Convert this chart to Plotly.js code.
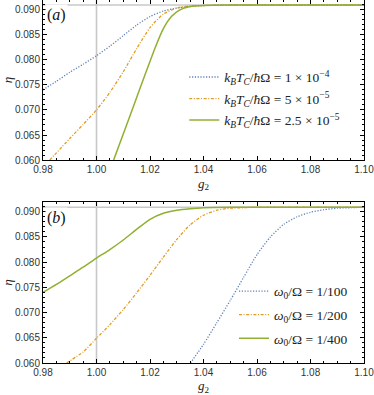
<!DOCTYPE html>
<html>
<head>
<meta charset="utf-8">
<script src="https://cdn.plot.ly/plotly-3.0.1.min.js"></script>
<style>html,body{margin:0;padding:0;background:#fff;}#chart{width:374px;height:395px;}</style>
</head>
<body>
<div id="chart"></div>
<script>
// ---- Panel (a): k_B T_C / ħΩ series ----
const gA1 = [0.98, 0.985, 0.99, 0.995, 1.00, 1.005, 1.01, 1.015, 1.02, 1.025, 1.03, 1.035, 1.04, 1.05, 1.06, 1.08, 1.10];
const etaA1 = [0.0740, 0.0757, 0.0775, 0.0791, 0.0808, 0.0827, 0.0848, 0.0869, 0.0886, 0.0897, 0.0903, 0.0906, 0.0908, 0.0909, 0.0909, 0.0909, 0.0909];
const gA2 = [0.9825, 0.99, 0.995, 1.00, 1.005, 1.01, 1.015, 1.02, 1.025, 1.03, 1.035, 1.04, 1.05, 1.06, 1.08, 1.10];
const etaA2 = [0.0600, 0.0643, 0.0671, 0.0700, 0.0735, 0.0776, 0.0822, 0.0864, 0.0891, 0.0903, 0.0907, 0.0908, 0.0909, 0.0909, 0.0909, 0.0909];
const gA3 = [1.0064, 1.01, 1.014, 1.018, 1.022, 1.025, 1.028, 1.031, 1.035, 1.04, 1.05, 1.06, 1.08, 1.10];
const etaA3 = [0.0600, 0.0652, 0.0710, 0.0768, 0.0825, 0.0862, 0.0886, 0.0899, 0.0906, 0.0908, 0.0909, 0.0909, 0.0909, 0.0909];
const namesA = [
  '<i>k</i><sub><i>B</i></sub><i>T</i><sub><i>C</i></sub>/<i>ħ</i>Ω = 1 × 10<sup>−4</sup>',
  '<i>k</i><sub><i>B</i></sub><i>T</i><sub><i>C</i></sub>/<i>ħ</i>Ω = 5 × 10<sup>−5</sup>',
  '<i>k</i><sub><i>B</i></sub><i>T</i><sub><i>C</i></sub>/<i>ħ</i>Ω = 2.5 × 10<sup>−5</sup>'
];

// ---- Panel (b): ω0/Ω series ----
const gB1 = [1.0351, 1.04, 1.045, 1.05, 1.055, 1.06, 1.065, 1.07, 1.075, 1.08, 1.085, 1.09, 1.095, 1.10];
const etaB1 = [0.0600, 0.0637, 0.0680, 0.0724, 0.0770, 0.0815, 0.0850, 0.0875, 0.0890, 0.0899, 0.0904, 0.0907, 0.0908, 0.0909];
const gB2 = [0.9888, 0.995, 1.00, 1.005, 1.01, 1.015, 1.02, 1.025, 1.03, 1.035, 1.04, 1.045, 1.05, 1.055, 1.06, 1.08, 1.10];
const etaB2 = [0.0600, 0.0622, 0.0649, 0.0676, 0.0706, 0.0739, 0.0774, 0.0810, 0.0845, 0.0874, 0.0893, 0.0903, 0.0907, 0.0908, 0.0909, 0.0909, 0.0909];
const gB3 = [0.98, 0.985, 0.99, 0.995, 1.00, 1.005, 1.01, 1.015, 1.02, 1.025, 1.03, 1.035, 1.04, 1.05, 1.06, 1.08, 1.10];
const etaB3 = [0.0740, 0.0756, 0.0773, 0.0790, 0.0808, 0.0825, 0.0844, 0.0865, 0.0885, 0.0897, 0.0903, 0.0906, 0.0908, 0.0909, 0.0909, 0.0909, 0.0909];
const namesB = [
  '<i>ω</i><sub>0</sub>/Ω = 1/100',
  '<i>ω</i><sub>0</sub>/Ω = 1/200',
  '<i>ω</i><sub>0</sub>/Ω = 1/400'
];

// reference lines
const refG = 1.00;
const satEta = 0.0909;

const xTickVals = [0.98, 1.00, 1.02, 1.04, 1.06, 1.08, 1.10];
const yTickVals = [0.060, 0.065, 0.070, 0.075, 0.080, 0.085, 0.090];

const colors = ['#5e81b5', '#e19c24', '#8fb032'];
const dashes = ['1.2px,1.6px', '3px,1.6px,1px,1.6px', 'solid'];
const widths = [1.3, 1.3, 1.5];

function mk(x, y, name, i, xa, ya, leg) {
  return {x: x, y: y, name: name, type: 'scatter', mode: 'lines',
    xaxis: xa, yaxis: ya, legend: leg, legendgroup: leg + i,
    line: {color: colors[i], dash: dashes[i], width: widths[i], shape: 'spline', smoothing: 0.6}};
}

const data = [
  mk(gA1, etaA1, namesA[0], 0, 'x', 'y', 'legend'),
  mk(gA2, etaA2, namesA[1], 1, 'x', 'y', 'legend'),
  mk(gA3, etaA3, namesA[2], 2, 'x', 'y', 'legend'),
  mk(gB1, etaB1, namesB[0], 0, 'x2', 'y2', 'legend2'),
  mk(gB2, etaB2, namesB[1], 1, 'x2', 'y2', 'legend2'),
  mk(gB3, etaB3, namesB[2], 2, 'x2', 'y2', 'legend2')
];

const tickFont = {family: 'Liberation Sans, Arial, sans-serif', size: 10, color: '#333'};
const titleFont = {family: 'Liberation Serif, DejaVu Serif, serif', size: 13, color: '#222'};
const legFont = {family: 'Liberation Serif, DejaVu Serif, serif', size: 13.5, color: '#222'};

function xax(anchor) {
  return {anchor: anchor, range: [0.98, 1.1], tickvals: xTickVals, tickformat: '.2f',
    ticks: 'inside', ticklen: 4, tickcolor: '#000', showline: true, linecolor: '#000', linewidth: 1,
    mirror: 'allticks', showgrid: false, zeroline: false, tickfont: tickFont, ticklabeloverflow: 'allow',
    minor: {dtick: 0.005, tick0: 0.98, ticks: 'inside', ticklen: 2, tickcolor: '#000', showgrid: false},
    title: {text: '<i>g</i><sub>2</sub>', font: titleFont, standoff: 4}};
}
function yax(anchor, dom) {
  return {anchor: anchor, domain: dom, range: [0.060, 0.0919], tickvals: yTickVals, tickformat: '.3f',
    ticks: 'inside', ticklen: 4, tickcolor: '#000', showline: true, linecolor: '#000', linewidth: 1,
    mirror: 'allticks', showgrid: false, zeroline: false, tickfont: tickFont, ticklabeloverflow: 'allow',
    minor: {dtick: 0.001, tick0: 0.060, ticks: 'inside', ticklen: 2, tickcolor: '#000', showgrid: false},
    title: {text: '<i>η</i>', font: titleFont, standoff: 6}};
}

const grey = {color: '#c8c8c8', width: 1.6};
const layout = {
  width: 374, height: 395,
  margin: {l: 43, r: 10, t: 0, b: 32},
  paper_bgcolor: '#fff', plot_bgcolor: '#fff',
  xaxis: xax('y'), yaxis: yax('x', [0.5589, 1]),
  xaxis2: xax('y2'), yaxis2: yax('x2', [0, 0.4431]),
  showlegend: true,
  legend: {x: 0.44, y: 0.83, xanchor: 'left', yanchor: 'top', bgcolor: 'rgba(0,0,0,0)',
    font: legFont, tracegroupgap: 1},
  legend2: {x: 0.595, y: 0.24, xanchor: 'left', yanchor: 'top', bgcolor: 'rgba(0,0,0,0)',
    font: legFont, tracegroupgap: 3},
  shapes: [
    {type: 'line', xref: 'x', yref: 'y domain', x0: refG, x1: refG, y0: 0, y1: 1, line: grey, layer: 'below'},
    {type: 'line', xref: 'x domain', yref: 'y', x0: 0, x1: 1, y0: satEta, y1: satEta, line: grey, layer: 'below'},
    {type: 'line', xref: 'x2', yref: 'y2 domain', x0: refG, x1: refG, y0: 0, y1: 1, line: grey, layer: 'below'},
    {type: 'line', xref: 'x2 domain', yref: 'y2', x0: 0, x1: 1, y0: satEta, y1: satEta, line: grey, layer: 'below'}
  ],
  annotations: [
    {text: '(<i>a</i>)', xref: 'paper', yref: 'paper', x: 0.0405, y: 0.9586, xanchor: 'center', yanchor: 'middle',
      showarrow: false, bgcolor: '#fff', borderpad: 1, font: {family: 'Liberation Serif, DejaVu Serif, serif', size: 16, color: '#111'}},
    {text: '(<i>b</i>)', xref: 'paper', yref: 'paper', x: 0.0405, y: 0.3986, xanchor: 'center', yanchor: 'middle',
      showarrow: false, bgcolor: '#fff', borderpad: 1, font: {family: 'Liberation Serif, DejaVu Serif, serif', size: 16, color: '#111'}}
  ]
};

Plotly.newPlot('chart', data, layout, {staticPlot: true, displayModeBar: false});
</script>
</body>
</html>
